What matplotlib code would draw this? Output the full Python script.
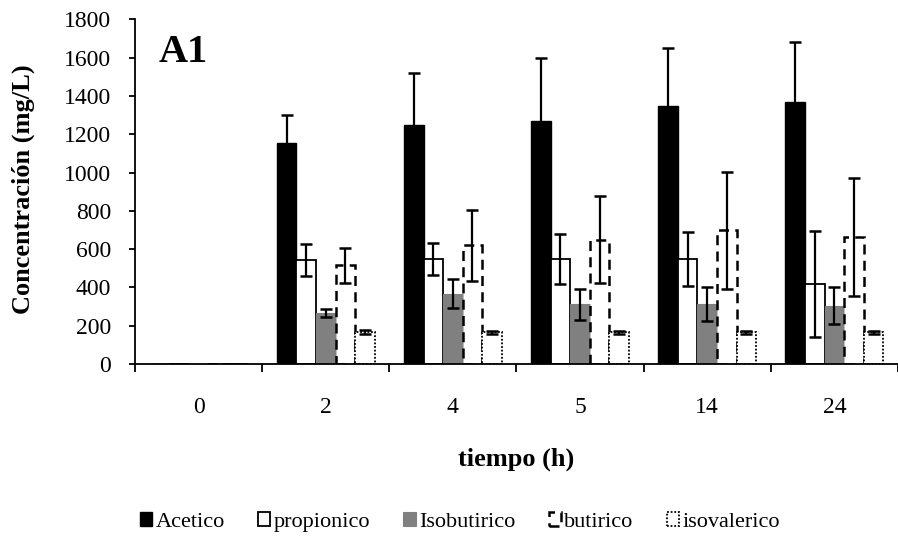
import numpy as np
import matplotlib.pyplot as plt

plt.rcParams['font.family'] = ['Liberation Serif', 'DejaVu Serif']

# Data
tiempos = ["0", "2", "4", "5", "14", "24"]
acetico = [0, 1156, 1249, 1270, 1350, 1370]
acetico_err = [0, 145, 270, 330, 303, 312]
propionico = [0, 543, 549, 547, 549, 416]
propionico_err = [0, 85, 85, 131, 141, 277]
isobutirico = [0, 265, 368, 312, 314, 305]
isobutirico_err = [0, 20, 75, 80, 90, 96]
butirico = [0, 515, 620, 650, 698, 663]
butirico_err = [0, 90, 187, 228, 306, 307]
isovalerico = [0, 168, 165, 165, 165, 165]
isovalerico_err = [0, 10, 8, 7, 8, 8]

fig = plt.figure(figsize=(8.98, 5.46), dpi=100)
ax = fig.add_axes([0.1503, 0.3333, 0.8497, 0.631])

x = np.arange(len(tiempos))
w = 0.154

series = [
    (acetico, acetico_err, dict(color='black', edgecolor='black', linewidth=1)),
    (propionico, propionico_err, dict(color='white', edgecolor='black', linewidth=1.3)),
    (isobutirico, isobutirico_err, dict(color='#808080', edgecolor='#808080', linewidth=0.8)),
    (butirico, butirico_err, dict(color='white', edgecolor='black', linewidth=1.8, linestyle=(0, (4, 2.5)))),
    (isovalerico, isovalerico_err, dict(color='white', edgecolor='black', linewidth=1.3, linestyle=(0, (1, 1)))),
]
labels = ["Acetico", "propionico", "Isobutirico", "butirico", "isovalerico"]

for i, (vals, errs, style) in enumerate(series):
    pos = x + (i - 2) * w
    ax.bar(pos, vals, w, label=labels[i], **style)
    mask = np.array(errs) > 0
    ax.errorbar(pos[mask], np.array(vals)[mask], yerr=np.array(errs)[mask],
                fmt='none', ecolor='black', elinewidth=1.6, capsize=4, capthick=1.8)

ax.set_ylim(0, 1800)
ax.set_yticks(range(0, 1801, 200))
ax.set_xlim(-0.5, 5.447)
ax.set_xticks(x)
ax.set_xticklabels(tiempos)
ax.set_xticks(np.arange(-0.5, 6, 1), minor=True)
ax.tick_params(axis='x', which='major', length=0, pad=24, labelsize=17)
ax.tick_params(axis='x', which='minor', length=6, width=1.3, direction='out')
ax.tick_params(axis='y', length=4, width=1.3, labelsize=17, pad=13)

for s in ['top', 'right']:
    ax.spines[s].set_visible(False)
for s in ['left', 'bottom']:
    ax.spines[s].set_linewidth(1.3)

ax.set_ylabel("Concentración (mg/L)", fontsize=19, fontweight='bold')
ax.yaxis.set_label_coords(-0.131, 0.508)
ax.set_xlabel("tiempo (h)", fontsize=19, fontweight='bold')
ax.xaxis.set_label_coords(0.5, -0.242)

ax.text(0.063, 0.903, "A1", transform=ax.transAxes, fontsize=29, fontweight='bold',
        va='center', ha='center')

fig.legend(loc='center', bbox_to_anchor=(0.512, 0.044), ncol=5, frameon=False,
           fontsize=16, handlelength=0.55, handleheight=0.55, handletextpad=0.15,
           columnspacing=1.5)

fig.savefig("out.png", dpi=100)
